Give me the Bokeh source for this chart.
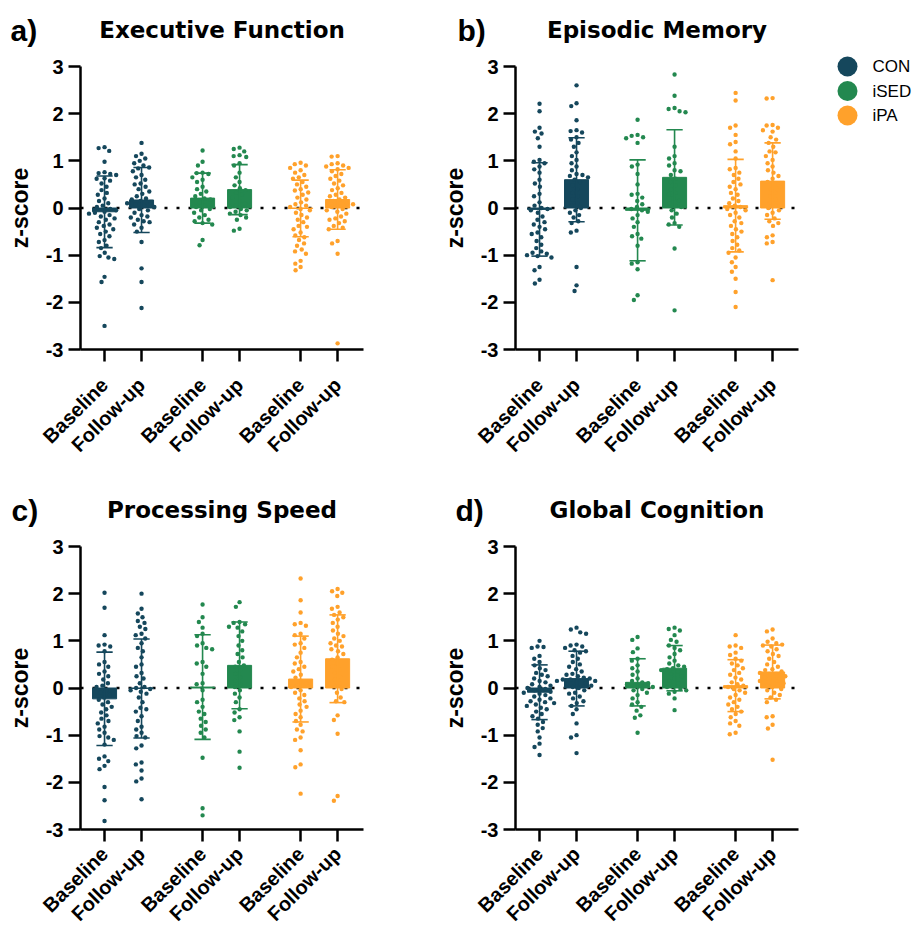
import math
import numpy as np
from bokeh.plotting import figure
from bokeh.layouts import row, column
from bokeh.models import Range1d, FixedTicker, ColumnDataSource
from bokeh.core.properties import value
from bokeh.embed import file_html
from bokeh.resources import INLINE

# ---------------- data ----------------
GROUPS = ["CON", "iSED", "iPA"]
COLORS = ["#15475C", "#23884F", "#FFA12B"]
TIMEPOINTS = ["Baseline", "Follow-up"]
X_POS = [1, 2, 3.65, 4.65, 6.3, 7.3]
Y_TICKS = [-3, -2, -1, 0, 1, 2, 3]
PANEL_TITLES = ["Executive Function", "Episodic Memory", "Processing Speed", "Global Cognition"]
PANEL_LETTERS = ["a)", "b)", "c)", "d)"]
Y_LABEL = "z-score"

# means and SD per bar (CON base, CON fu, iSED base, iSED fu, iPA base, iPA fu)
ef_means = [-0.08, 0.17, 0.21, 0.39, -0.01, 0.18]
ef_sd = [0.76, 0.69, 0.53, 0.53, 0.60, 0.63]
em_means = [-0.03, 0.60, -0.05, 0.65, 0.05, 0.57]
em_sd = [0.99, 0.89, 1.07, 1.01, 0.98, 0.81]
ps_means = [-0.23, -0.01, 0.02, 0.48, 0.19, 0.62]
ps_sd = [0.99, 1.05, 1.11, 0.92, 0.91, 0.93]
gc_means = [-0.09, 0.20, 0.12, 0.42, 0.05, 0.34]
gc_sd = [0.58, 0.58, 0.50, 0.48, 0.55, 0.57]

# individual z-scores
ef_con_base = [1.29, 1.27, 1.21, 0.98, 0.76, 0.74, 0.72, 0.70, 0.63, 0.62, 0.58, 0.52, 0.45, 0.38, 0.32, 0.28,
               0.20, 0.15, 0.10, 0.05, 0.02, -0.02, -0.05, -0.08, -0.10, -0.12, -0.15, -0.18, -0.22, -0.25,
               -0.30, -0.35, -0.38, -0.42, -0.45, -0.50, -0.55, -0.60, -0.68, -0.72, -0.80, -0.85, -0.95,
               -1.02, -1.05, -1.08, -1.46, -1.57, -2.50]
ef_con_fu = [1.38, 1.15, 1.10, 1.05, 1.00, 0.95, 0.90, 0.86, 0.84, 0.78, 0.70, 0.65, 0.60, 0.52, 0.50, 0.45,
             0.40, 0.35, 0.30, 0.25, 0.20, 0.18, 0.15, 0.12, 0.10, 0.08, 0.05, 0.02, -0.02, -0.05, -0.10,
             -0.15, -0.18, -0.20, -0.25, -0.28, -0.30, -0.35, -0.42, -0.50, -0.72, -1.28, -1.57, -2.12]
ef_ised_base = [1.22, 0.98, 0.90, 0.75, 0.74, 0.72, 0.65, 0.60, 0.55, 0.45, 0.40, 0.35, 0.30, 0.25, 0.20,
                0.18, 0.12, 0.05, 0.02, -0.02, -0.05, -0.10, -0.15, -0.20, -0.25, -0.28, -0.32, -0.35,
                -0.68, -0.79]
ef_ised_fu = [1.28, 1.25, 1.20, 1.12, 1.10, 1.08, 0.95, 0.90, 0.75, 0.65, 0.55, 0.48, 0.42, 0.38, 0.32,
              0.28, 0.22, 0.15, 0.10, 0.05, 0.02, -0.02, -0.05, -0.08, -0.12, -0.15, -0.20, -0.25,
              -0.44, -0.48]
ef_ipa_base = [0.96, 0.93, 0.90, 0.85, 0.80, 0.75, 0.70, 0.65, 0.62, 0.55, 0.50, 0.45, 0.40, 0.37, 0.33,
               0.28, 0.22, 0.18, 0.12, 0.08, 0.05, 0.02, -0.02, -0.05, -0.10, -0.15, -0.20, -0.25, -0.30,
               -0.38, -0.40, -0.45, -0.52, -0.58, -0.62, -0.68, -0.75, -0.80, -0.88, -0.92, -0.97, -1.12,
               -1.18, -1.25, -1.32]
ef_ipa_fu = [1.10, 1.09, 0.95, 0.93, 0.90, 0.88, 0.85, 0.82, 0.78, 0.72, 0.68, 0.62, 0.58, 0.52, 0.48,
             0.42, 0.38, 0.32, 0.28, 0.25, 0.22, 0.18, 0.15, 0.12, 0.10, 0.08, 0.05, 0.02, -0.02, -0.05,
             -0.08, -0.12, -0.18, -0.22, -0.25, -0.28, -0.32, -0.38, -0.42, -0.45, -0.70, -0.75, -0.97,
             -2.87]

em_con_base = [2.21, 2.05, 1.70, 1.62, 1.58, 1.48, 1.30, 1.02, 0.98, 0.95, 0.88, 0.82, 0.75, 0.60, 0.52,
               0.45, 0.30, 0.25, 0.12, 0.05, 0.00, -0.02, -0.05, -0.10, -0.18, -0.25, -0.30, -0.35, -0.40,
               -0.45, -0.52, -0.55, -0.62, -0.70, -0.78, -0.85, -0.92, -0.95, -0.97, -1.00, -1.02, -1.05,
               -1.25, -1.32, -1.52, -1.60]
em_con_fu = [2.60, 2.22, 2.16, 1.86, 1.65, 1.63, 1.60, 1.50, 1.45, 1.38, 1.30, 1.18, 1.10, 1.02, 0.95,
             0.88, 0.80, 0.72, 0.70, 0.68, 0.65, 0.60, 0.55, 0.48, 0.40, 0.32, 0.25, 0.18, 0.10, 0.05,
             0.00, -0.05, -0.10, -0.15, -0.20, -0.28, -0.32, -0.48, -0.52, -1.25, -1.64, -1.76]
em_ised_base = [1.87, 1.55, 1.53, 1.50, 1.48, 1.38, 0.92, 0.88, 0.72, 0.50, 0.30, 0.28, 0.22, 0.15, 0.08,
                0.02, -0.02, -0.05, -0.08, -0.15, -0.22, -0.30, -0.40, -0.55, -0.60, -0.65, -0.80, -1.15,
                -1.18, -1.30, -1.85, -1.95]
em_ised_fu = [2.83, 2.38, 2.12, 2.10, 2.05, 2.03, 1.30, 1.10, 1.05, 0.95, 0.90, 0.80, 0.78, 0.70, 0.62,
              0.55, 0.48, 0.40, 0.32, 0.28, 0.20, 0.15, 0.10, 0.05, 0.02, -0.05, -0.12, -0.20, -0.32,
              -0.35, -0.40, -0.86, -2.17]
em_ipa_base = [2.44, 2.28, 1.75, 1.70, 1.55, 1.40, 1.35, 1.20, 1.05, 0.85, 0.82, 0.75, 0.70, 0.62, 0.55,
               0.50, 0.45, 0.40, 0.32, 0.28, 0.20, 0.15, 0.10, 0.05, 0.02, -0.02, -0.05, -0.10, -0.15,
               -0.20, -0.28, -0.32, -0.38, -0.45, -0.50, -0.55, -0.62, -0.70, -0.78, -0.85, -0.90, -0.95,
               -1.05, -1.15, -1.25, -1.35, -1.50, -1.78, -2.10]
em_ipa_fu = [2.33, 2.32, 1.76, 1.75, 1.70, 1.65, 1.62, 1.50, 1.45, 1.38, 1.30, 1.20, 1.18, 1.10, 1.02,
             0.95, 0.88, 0.80, 0.75, 0.68, 0.62, 0.55, 0.50, 0.45, 0.40, 0.32, 0.25, 0.18, 0.12, 0.05,
             0.00, -0.05, -0.10, -0.15, -0.22, -0.28, -0.32, -0.38, -0.58, -0.62, -0.72, -0.75, -1.53]

ps_con_base = [2.02, 1.70, 1.12, 0.92, 0.90, 0.88, 0.78, 0.55, 0.50, 0.45, 0.35, 0.30, 0.25, 0.18, 0.10,
               0.05, 0.02, -0.05, -0.10, -0.15, -0.20, -0.25, -0.30, -0.35, -0.40, -0.45, -0.52, -0.58,
               -0.65, -0.70, -0.75, -0.82, -0.88, -0.95, -1.02, -1.05, -1.10, -1.20, -1.45, -1.50, -1.55,
               -1.65, -1.72, -2.10, -2.38, -2.82]
ps_con_fu = [2.00, 1.68, 1.58, 1.50, 1.42, 1.38, 1.30, 1.25, 1.15, 1.12, 1.05, 0.95, 0.85, 0.78, 0.65,
             0.50, 0.45, 0.32, 0.25, 0.20, 0.10, 0.02, 0.00, -0.02, -0.05, -0.08, -0.12, -0.20, -0.30,
             -0.42, -0.45, -0.50, -0.60, -0.70, -0.82, -0.88, -0.95, -1.02, -1.05, -1.22, -1.28, -1.58,
             -1.62, -1.75, -1.92, -1.98, -2.36]
ps_ised_base = [1.77, 1.50, 1.40, 1.28, 1.15, 1.10, 0.95, 0.90, 0.85, 0.82, 0.55, 0.52, 0.45, 0.30, 0.10,
                0.08, -0.05, -0.25, -0.30, -0.40, -0.50, -0.55, -0.65, -0.72, -0.80, -0.88, -0.95, -1.05,
                -1.48, -2.55, -2.70]
ps_ised_fu = [1.82, 1.72, 1.40, 1.38, 1.35, 1.30, 1.28, 1.20, 1.10, 1.00, 0.90, 0.80, 0.72, 0.65, 0.55,
              0.48, 0.45, 0.38, 0.30, 0.22, 0.15, 0.08, 0.02, -0.05, -0.12, -0.20, -0.30, -0.45, -0.52,
              -0.62, -0.68, -0.92, -1.35, -1.69]
ps_ipa_base = [2.32, 1.86, 1.60, 1.38, 1.35, 1.32, 1.15, 1.12, 1.05, 0.95, 0.92, 0.85, 0.75, 0.65, 0.55,
               0.52, 0.45, 0.40, 0.35, 0.28, 0.22, 0.15, 0.10, 0.05, 0.02, -0.05, -0.10, -0.15, -0.22,
               -0.28, -0.35, -0.40, -0.48, -0.55, -0.62, -0.70, -0.78, -0.88, -0.92, -1.05, -1.10, -1.32,
               -1.62, -1.68, -2.24]
ps_ipa_fu = [2.10, 2.05, 2.02, 1.95, 1.72, 1.68, 1.60, 1.55, 1.50, 1.45, 1.38, 1.30, 1.22, 1.15, 1.10,
             1.05, 1.00, 0.95, 0.90, 0.88, 0.82, 0.78, 0.72, 0.65, 0.60, 0.52, 0.45, 0.40, 0.32, 0.25,
             0.18, 0.10, 0.05, -0.02, -0.10, -0.20, -0.28, -0.30, -0.58, -0.68, -0.97, -2.29, -2.39]

gc_con_base = [1.00, 0.88, 0.87, 0.85, 0.68, 0.62, 0.55, 0.48, 0.42, 0.38, 0.32, 0.28, 0.25, 0.20, 0.15,
               0.12, 0.08, 0.05, 0.02, 0.00, -0.02, -0.05, -0.08, -0.10, -0.12, -0.15, -0.18, -0.22, -0.25,
               -0.28, -0.30, -0.32, -0.35, -0.38, -0.42, -0.45, -0.50, -0.55, -0.60, -0.65, -0.72, -0.78,
               -0.85, -0.92, -1.05, -1.18, -1.25, -1.42]
gc_con_fu = [1.28, 1.24, 1.18, 1.15, 0.92, 0.90, 0.88, 0.85, 0.80, 0.78, 0.75, 0.68, 0.62, 0.55, 0.50,
             0.45, 0.40, 0.35, 0.30, 0.28, 0.25, 0.22, 0.20, 0.18, 0.18, 0.15, 0.15, 0.12, 0.10, 0.08,
             0.05, 0.02, 0.00, -0.05, -0.10, -0.12, -0.18, -0.22, -0.28, -0.32, -0.38, -0.45, -0.55,
             -0.75, -1.00, -1.05, -1.38]
gc_ised_base = [1.08, 1.02, 0.84, 0.76, 0.62, 0.58, 0.48, 0.42, 0.35, 0.28, 0.20, 0.15, 0.12, 0.10, 0.08,
                0.05, 0.02, -0.02, -0.05, -0.10, -0.15, -0.22, -0.30, -0.35, -0.40, -0.48, -0.58, -0.63,
                -0.95]
gc_ised_fu = [1.28, 1.25, 1.22, 1.12, 1.02, 0.98, 0.90, 0.85, 0.80, 0.72, 0.65, 0.58, 0.52, 0.48, 0.45,
              0.42, 0.40, 0.38, 0.35, 0.30, 0.25, 0.20, 0.15, 0.10, 0.05, 0.02, -0.02, -0.05, -0.08,
              -0.12, -0.22, -0.47]
gc_ipa_base = [1.12, 0.90, 0.88, 0.85, 0.75, 0.70, 0.62, 0.58, 0.52, 0.48, 0.42, 0.38, 0.32, 0.28, 0.22,
               0.18, 0.12, 0.08, 0.05, 0.02, -0.02, -0.05, -0.10, -0.15, -0.20, -0.25, -0.30, -0.35,
               -0.40, -0.45, -0.50, -0.55, -0.62, -0.70, -0.75, -0.80, -0.95, -0.98]
gc_ipa_fu = [1.24, 1.20, 1.05, 0.98, 0.95, 0.92, 0.90, 0.88, 0.82, 0.78, 0.72, 0.68, 0.62, 0.55, 0.50,
             0.45, 0.40, 0.38, 0.35, 0.32, 0.30, 0.28, 0.25, 0.22, 0.20, 0.18, 0.15, 0.12, 0.10, 0.08,
             0.05, 0.02, -0.02, -0.05, -0.10, -0.15, -0.20, -0.25, -0.30, -0.60, -0.62, -0.78, -0.86,
             -1.52]

# ---------------- layout constants (pixels) ----------------
X0, X1 = 0.35, 8.0          # extent of the x axis line
Y0, Y1 = -3.0, 3.0          # extent of the y axis line
AXIS_W_PX = 283             # length of x axis line
AXIS_H_PX = 283             # length of y axis line
PPU_X = AXIS_W_PX / (X1 - X0)
PPU_Y = AXIS_H_PX / (Y1 - Y0)
COL_W = [443, 471]
COL_AX_LEFT = [80, 72]      # px from figure left edge to the y axis
ROW_H = [488, 441]
ROW_AX_TOP = [66, 58]       # px from figure top edge to y = 3
ROW_XLABEL_STANDOFF = [20, 9]
BAR_W = 0.65
CAP_W = 0.44
DOT = 4.4
BOLD_FONT = "Liberation Sans"
TITLE_FONT = "DejaVu Sans"
TITLE_RISE = 37             # px from y = 3 up to the title baseline


def swarm_offsets(vals, d=6.0):
    """Deterministic beeswarm: x offsets (data units) so dots don't overlap."""
    ys = np.asarray(vals, dtype=float) * PPU_Y
    order = np.argsort(-ys, kind="stable")
    placed = []
    xs = np.zeros(len(ys))
    for i in order:
        y = ys[i]
        cands = [0.0]
        for (qx, qy) in placed:
            dy = abs(qy - y)
            if dy < d:
                dx = math.sqrt(d * d - dy * dy)
                cands += [qx + dx, qx - dx]
        cands.sort(key=lambda c: (abs(c), c))
        chosen = 0.0
        for c in cands:
            ok = True
            for (qx, qy) in placed:
                if (c - qx) ** 2 + (y - qy) ** 2 < d * d - 1e-6:
                    ok = False
                    break
            if ok:
                chosen = c
                break
        xs[i] = chosen
        placed.append((chosen, y))
    return xs / PPU_X


def make_panel(letter, title, means, sds, point_lists, col, rw, letter_px, legend=False):
    fig_w, fig_h = COL_W[col], ROW_H[rw]
    xs = X0 - COL_AX_LEFT[col] / PPU_X
    xe = xs + fig_w / PPU_X
    ye = Y1 + ROW_AX_TOP[rw] / PPU_Y
    ys = ye - fig_h / PPU_Y
    p = figure(width=fig_w, height=fig_h,
               x_range=Range1d(xs, xe), y_range=Range1d(ys, ye),
               output_backend="svg", toolbar_location=None, min_border=0)
    p.outline_line_color = None
    p.grid.visible = False
    p.background_fill_color = "white"
    p.border_fill_color = "white"

    # dotted zero reference line
    p.segment(x0=[X0], y0=[0], x1=[X1], y1=[0], line_color="black",
              line_width=2.5, line_dash="3 9")

    colors6 = [c for c in COLORS for _ in range(2)]
    src = ColumnDataSource(dict(
        x=X_POS, top=means, color=colors6,
        lo=[m - s for m, s in zip(means, sds)],
        hi=[m + s for m, s in zip(means, sds)],
        cl=[x - CAP_W / 2 for x in X_POS],
        cr=[x + CAP_W / 2 for x in X_POS],
    ))
    p.vbar(x="x", top="top", bottom=0, width=BAR_W, fill_color="color",
           line_color="color", line_width=1, source=src)

    for i, vals in enumerate(point_lists):
        offs = swarm_offsets(vals)
        p.scatter(x=list(X_POS[i] + offs), y=vals, size=DOT,
                  fill_color=colors6[i], line_color=None)

    p.segment(x0="x", y0="lo", x1="x", y1="hi", line_color="color", line_width=1.6, source=src)
    p.segment(x0="cl", y0="hi", x1="cr", y1="hi", line_color="color", line_width=1.6, source=src)
    p.segment(x0="cl", y0="lo", x1="cr", y1="lo", line_color="color", line_width=1.6, source=src)

    # axes
    for ax in (p.xaxis[0], p.yaxis[0]):
        ax.axis_line_width = 2.5
        ax.axis_line_color = "black"
        ax.major_tick_line_width = 2.5
        ax.major_tick_line_color = "black"
        ax.major_tick_out = 12
        ax.major_tick_in = 0
        ax.minor_tick_out = 0
        ax.minor_tick_in = 0
        ax.major_label_text_font = BOLD_FONT
        ax.major_label_text_font_style = "bold"
        ax.major_label_text_color = "black"

    xa = p.xaxis[0]
    xa.fixed_location = Y0
    xa.bounds = (X0, X1)
    xa.ticker = FixedTicker(ticks=X_POS)
    xa.major_label_overrides = {x: lab for x, lab in zip(X_POS, TIMEPOINTS * 3)}
    xa.major_label_orientation = math.pi / 4
    xa.major_label_text_font_size = "20px"
    xa.major_label_standoff = ROW_XLABEL_STANDOFF[rw]

    ya = p.yaxis[0]
    ya.fixed_location = X0
    ya.bounds = (Y0, Y1)
    ya.ticker = FixedTicker(ticks=Y_TICKS)
    ya.major_label_overrides = {t: str(t) for t in Y_TICKS}
    ya.major_label_text_font_size = "20px"
    ya.major_label_standoff = 5
    ya.axis_label = Y_LABEL
    ya.axis_label_text_font = BOLD_FONT
    ya.axis_label_text_font_style = "bold"
    ya.axis_label_text_font_size = "23px"
    ya.axis_label_text_color = "black"
    ya.axis_label_standoff = 10

    # panel title and letter
    p.text(x=[(X0 + X1) / 2], y=[Y1 + TITLE_RISE / PPU_Y], text=[title],
           text_font=value(TITLE_FONT), text_font_style="bold", text_font_size=value("23px"),
           text_align="center", text_baseline="alphabetic", text_color="black")
    p.text(x=[X0 - letter_px / PPU_X], y=[Y1 + (TITLE_RISE - 1) / PPU_Y], text=[letter],
           text_font=value(BOLD_FONT), text_font_style="bold", text_font_size=value("30px"),
           text_align="left", text_baseline="alphabetic", text_color="black")

    if legend:
        lx = X0 + 332 / PPU_X
        tx = X0 + 357 / PPU_X
        ly = [Y1 - k * 24.5 / PPU_Y for k in range(len(GROUPS))]
        lsrc = ColumnDataSource(dict(x=[lx] * 3, tx=[tx] * 3, y=ly, label=GROUPS, color=COLORS))
        p.scatter("x", "y", size=20, fill_color="color", line_color=None, source=lsrc)
        p.text("tx", "y", text="label", text_font=value("Liberation Sans"),
               text_font_size=value("17px"), text_baseline="middle", text_align="left",
               text_color="black", source=lsrc)
    return p


pa = make_panel(PANEL_LETTERS[0], PANEL_TITLES[0], ef_means, ef_sd,
                [ef_con_base, ef_con_fu, ef_ised_base, ef_ised_fu, ef_ipa_base, ef_ipa_fu],
                0, 0, letter_px=70)
pb = make_panel(PANEL_LETTERS[1], PANEL_TITLES[1], em_means, em_sd,
                [em_con_base, em_con_fu, em_ised_base, em_ised_fu, em_ipa_base, em_ipa_fu],
                1, 0, letter_px=58, legend=True)
pc = make_panel(PANEL_LETTERS[2], PANEL_TITLES[2], ps_means, ps_sd,
                [ps_con_base, ps_con_fu, ps_ised_base, ps_ised_fu, ps_ipa_base, ps_ipa_fu],
                0, 1, letter_px=69)
pd_ = make_panel(PANEL_LETTERS[3], PANEL_TITLES[3], gc_means, gc_sd,
                 [gc_con_base, gc_con_fu, gc_ised_base, gc_ised_fu, gc_ipa_base, gc_ipa_fu],
                 1, 1, letter_px=60)

layout = column(row(pa, pb), row(pc, pd_))

open("out.html", "w").write(file_html(layout, INLINE))
